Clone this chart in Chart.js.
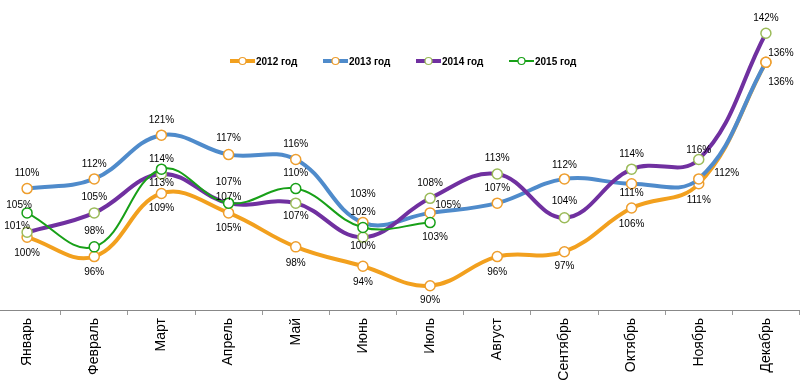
<!DOCTYPE html>
<html>
<head>
<meta charset="utf-8">
<script src="https://cdn.jsdelivr.net/npm/chart.js@4/dist/chart.umd.min.js"></script>
<style>
  html, body { margin: 0; padding: 0; background: #fff; overflow: hidden; }
  #wrap { position: absolute; left: -13px; top: 0; width: 819px; height: 384px; }
</style>
</head>
<body>
<div id="wrap"><canvas id="myChart"></canvas></div>
<script>
// Months and yearly values (%)
const months = ["Январь", "Февраль", "Март", "Апрель", "Май", "Июнь",
  "Июль", "Август", "Сентябрь", "Октябрь", "Ноябрь", "Декабрь"];
const years = ["2012 год", "2013 год", "2014 год", "2015 год"];
const v2012 = [100, 96, 109, 105, 98, 94, 90, 96, 97, 106, 111, 136];
const v2013 = [110, 112, 121, 117, 116, 103, 105, 107, 112, 111, 112, 136];
const v2014 = [101, 105, 113, 107, 107, 100, 108, 113, 104, 114, 116, 142];
const v2015 = [105, 98, 114, 107, 110, 102, 103];

// label offsets from the point, [dx, dy]
const off2012 = [[0,16],[0,16],[0,15],[0,15],[0,16],[0,16],[0,15],[0,16],[0,15],[0,16],[0,17],[15,20]];
const off2013 = [[0,-15],[0,-15],[0,-15],[0,-16],[0,-15],[0,-28],[18,-8],[0,-15],[0,-14],[0,10],[28,-6],[15,-9]];
const off2014 = [[-10,-6],[0,-16],[0,9],[0,-6],[0,13],[0,9],[0,-15],[0,-16],[0,-16],[0,-15],[0,-9],[0,-15]];
const off2015 = [[-8,-8],[0,-16],[0,-10],[0,-21],[0,-15],[0,-15],[5,15]];

const lineColors = ["#F2A01E", "#4F8BCB", "#7030A0", "#18A018"];
const markerColors = ["#EE9E2E", "#EE9E2E", "#9BBB59", "#18A018"];
const lineWidths = [4, 4, 4, 2];
const offsets = [off2012, off2013, off2014, off2015];
const series = [v2012, v2013, v2014, v2015];

const labelPlugin = {
  id: "pctLabels",
  afterDatasetsDraw(chart) {
    const ctx = chart.ctx;
    ctx.save();
    ctx.font = "10px 'Liberation Sans', Arial, sans-serif";
    ctx.fillStyle = "#000";
    ctx.textAlign = "center";
    ctx.textBaseline = "middle";
    chart.data.datasets.forEach((ds, di) => {
      const meta = chart.getDatasetMeta(di);
      meta.data.forEach((pt, i) => {
        const o = offsets[di][i];
        ctx.fillText(ds.data[i] + "%", pt.x + o[0], pt.y + o[1]);
      });
    });
    ctx.restore();
  }
};

const legendPlugin = {
  id: "innerLegend",
  afterDatasetsDraw(chart) {
    const ctx = chart.ctx;
    ctx.save();
    const y = 61;
    years.forEach((name, i) => {
      const x0 = 243 + i * 93;
      ctx.strokeStyle = lineColors[i];
      ctx.lineWidth = lineWidths[i];
      ctx.beginPath();
      ctx.moveTo(x0, y);
      ctx.lineTo(x0 + 25, y);
      ctx.stroke();
      ctx.beginPath();
      ctx.arc(x0 + 12.5, y, 3.5, 0, Math.PI * 2);
      ctx.fillStyle = "#fff";
      ctx.fill();
      ctx.lineWidth = 1.2;
      ctx.strokeStyle = markerColors[i];
      ctx.stroke();
      ctx.fillStyle = "#000";
      ctx.font = "bold 10px 'Liberation Sans', Arial, sans-serif";
      ctx.textAlign = "left";
      ctx.textBaseline = "middle";
      ctx.fillText(name, x0 + 26, y + 1);
    });
    ctx.restore();
  }
};

const ctx = document.getElementById("myChart").getContext("2d");
const myChart = new Chart(ctx, {
  type: "line",
  data: {
    labels: months,
    datasets: series.map((vals, i) => ({
      label: years[i],
      data: vals,
      borderColor: lineColors[i],
      borderWidth: lineWidths[i],
      tension: 0.4,
      pointRadius: 5,
      pointBorderWidth: 1.5,
      pointBackgroundColor: "#fff",
      pointBorderColor: markerColors[i],
      fill: false,
      order: 3 - i,
    })),
  },
  options: {
    responsive: true,
    maintainAspectRatio: false,
    animation: false,
    layout: { padding: 0 },
    plugins: {
      legend: { display: false },
      tooltip: { enabled: false },
    },
    scales: {
      x: {
        offset: true,
        grid: {
          display: true,
          drawOnChartArea: false,
          drawTicks: true,
          tickLength: 5,
          color: "#999",
          offset: true,
        },
        border: { display: true, color: "#888", width: 1 },
        ticks: {
          minRotation: 90,
          maxRotation: 90,
          color: "#000",
          padding: 3,
          font: { family: "'Liberation Sans', Arial, sans-serif", size: 14 },
        },
        afterFit(scale) {
          scale.height = 74;
          scale.paddingLeft = 0;
          scale.paddingRight = 0;
        },
      },
      y: {
        display: false,
        min: 85,
        max: 147.5,
      },
    },
  },
  plugins: [labelPlugin, legendPlugin],
});
</script>
</body>
</html>
